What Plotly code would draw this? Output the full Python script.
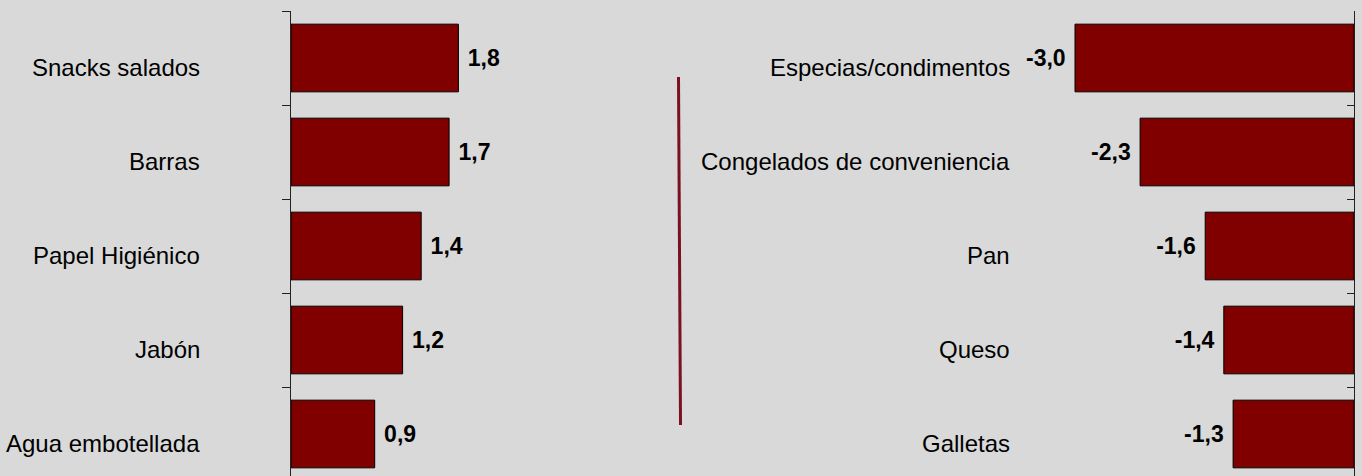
import plotly.graph_objects as go

# Categories and values (index change, Spanish labels)
cats_up = ["Snacks salados", "Barras", "Papel Higiénico", "Jabón", "Agua embotellada"]
vals_up = [1.8, 1.7, 1.4, 1.2, 0.9]
cats_down = ["Especias/condimentos", "Congelados de conveniencia", "Pan", "Queso", "Galletas"]
vals_down = [-3.0, -2.3, -1.6, -1.4, -1.3]

W, H = 1362, 476
BG = "#d9d9d9"
BAR = "#800000"
FONT = "Arial, Liberation Sans, sans-serif"
NBSP = "\u00a0"

px_per_unit = 93.0
span = 3.2
left_x0 = 291
right_x1 = 1354
top = 11
band = 94.0

y_lo = -0.5
y_hi = -0.5 + (H - top) / band
yrange = [y_hi, y_lo]

left_dom = [left_x0 / W, (left_x0 + span * px_per_unit) / W]
right_dom = [(right_x1 - span * px_per_unit) / W, right_x1 / W]
ydom = [0, (H - top) / H]


def fmt(v):
    return f"{v:.1f}".replace(".", ",")


fig = go.Figure()

fig.add_trace(go.Bar(
    x=vals_up, y=cats_up, orientation="h", xaxis="x", yaxis="y",
    marker=dict(color=BAR, line=dict(color="#000000", width=1)),
    width=0.72,
    text=[NBSP + fmt(v) for v in vals_up],
    textposition="outside", cliponaxis=False,
    textfont=dict(family=FONT, size=23, color="#000000", weight="bold"),
    showlegend=False, hoverinfo="skip",
))
fig.add_trace(go.Bar(
    x=vals_down, y=cats_down, orientation="h", xaxis="x2", yaxis="y2",
    marker=dict(color=BAR, line=dict(color="#000000", width=1)),
    width=0.72,
    text=[fmt(v) + NBSP for v in vals_down],
    textposition="outside", cliponaxis=False,
    textfont=dict(family=FONT, size=23, color="#000000", weight="bold"),
    showlegend=False, hoverinfo="skip",
))

axis_line = dict(showline=True, linecolor="#222222", linewidth=1,
                 tickcolor="#222222", tickwidth=1)

# category names, right-aligned left of each panel
annotations = []
for c in cats_up:
    annotations.append(dict(
        x=0, xref="x domain", y=c, yref="y", xanchor="right", yanchor="middle",
        xshift=-89, yshift=-9, showarrow=False, text=c,
        font=dict(family=FONT, size=24, color="#000000")))
for c in cats_down:
    annotations.append(dict(
        x=0, xref="x2 domain", y=c, yref="y2", xanchor="right", yanchor="middle",
        xshift=-44, yshift=-9, showarrow=False, text=c,
        font=dict(family=FONT, size=24, color="#000000")))

fig.update_layout(
    template="none",
    width=W, height=H,
    margin=dict(l=0, r=0, t=0, b=0, pad=0),
    paper_bgcolor=BG, plot_bgcolor=BG,
    font=dict(family=FONT, size=24, color="#000000"),
    xaxis=dict(domain=left_dom, range=[0, span], visible=False, fixedrange=True),
    xaxis2=dict(domain=right_dom, range=[-span, 0], visible=False, fixedrange=True),
    yaxis=dict(domain=ydom, anchor="x", type="category",
               categoryorder="array", categoryarray=cats_up,
               range=yrange, autorange=False, side="left",
               ticks="outside", ticklen=8, tickson="boundaries",
               showticklabels=False, showgrid=False, zeroline=False,
               automargin=False, **axis_line),
    yaxis2=dict(domain=ydom, anchor="x2", type="category",
                categoryorder="array", categoryarray=cats_down,
                range=yrange, autorange=False, side="right",
                ticks="inside", ticklen=7, tickson="boundaries",
                showticklabels=False, showgrid=False, zeroline=False,
                automargin=False, **axis_line),
    annotations=annotations,
    shapes=[dict(type="line", xref="paper", yref="paper",
                 x0=678.5 / W, x1=680.5 / W, y0=1 - 77 / H, y1=1 - 425 / H,
                 line=dict(color="#7a1020", width=3))],
)

fig.write_html("out.html")
